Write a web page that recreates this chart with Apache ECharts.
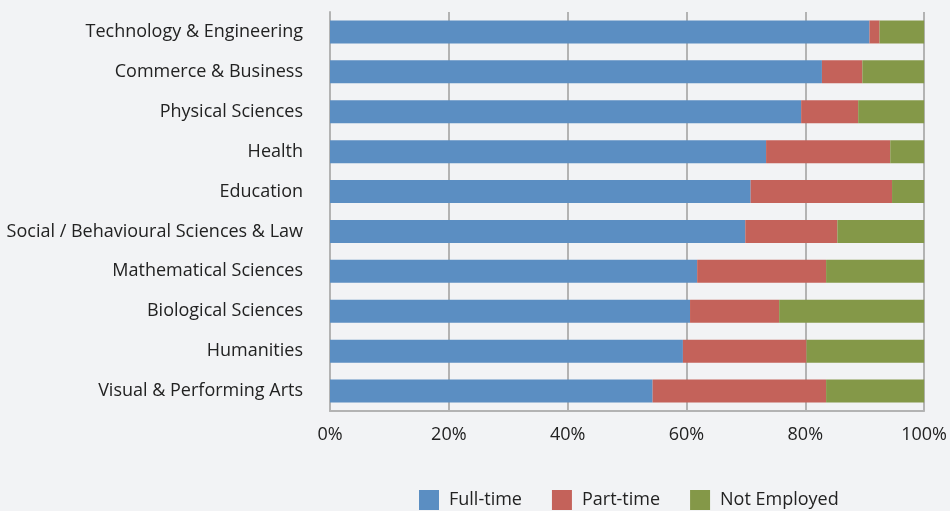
<!DOCTYPE html>
<html>
<head>
<meta charset="utf-8">
<script src="https://cdn.jsdelivr.net/npm/echarts@6/dist/echarts.min.js"></script>
<style>
  html, body { margin: 0; padding: 0; background: #f2f3f5; }
  #chart { width: 950px; height: 511px; }
</style>
</head>
<body>
<div id="chart"></div>
<script>
// categories, top to bottom
const categories = [
  'Technology & Engineering',
  'Commerce & Business',
  'Physical Sciences',
  'Health',
  'Education',
  'Social / Behavioural Sciences & Law',
  'Mathematical Sciences',
  'Biological Sciences',
  'Humanities',
  'Visual & Performing Arts'
]
// shares in percent
const fullTime = [90.8, 82.8, 79.3, 73.4, 70.8, 69.9, 61.8, 60.6, 59.4, 54.3]
const partTime = [1.7, 6.8, 9.6, 20.9, 23.8, 15.5, 21.7, 15.0, 20.8, 29.2]
const notEmployed = [7.5, 10.4, 11.1, 5.7, 5.4, 14.6, 16.5, 24.4, 19.8, 16.5]
const seriesNames = ['Full-time', 'Part-time', 'Not Employed']

const font = 'Open Sans'
const chart = echarts.init(document.getElementById('chart'))

const makeSeries = (name, data, color) => ({
  name: name,
  type: 'bar',
  stack: 'total',
  barWidth: 23,
  itemStyle: { color: color },
  data: data
})

chart.setOption({
  backgroundColor: '#f2f3f5',
  animation: false,
  textStyle: { fontFamily: font },
  grid: { left: 330, right: 25, top: 12, bottom: 100 },
  legend: {
    top: 490,
    left: 419,
    padding: 0,
    itemWidth: 20,
    itemHeight: 20,
    itemGap: 30,
    icon: 'rect',
    textStyle: { fontSize: 18, color: '#222', fontFamily: font, padding: [0, 0, 0, 5] },
    data: seriesNames
  },
  xAxis: {
    type: 'value',
    min: 0,
    max: 100,
    interval: 20,
    axisLine: { show: true, lineStyle: { color: '#b3b3b3', width: 2 } },
    axisTick: { show: false },
    splitLine: { show: true, lineStyle: { color: '#b3b3b3', width: 2 } },
    axisLabel: {
      formatter: '{value}%',
      fontSize: 18,
      color: '#222',
      margin: 15,
      fontFamily: font
    }
  },
  yAxis: {
    type: 'category',
    inverse: true,
    data: categories,
    axisLine: { show: true, lineStyle: { color: '#b3b3b3', width: 2 } },
    axisTick: { show: false },
    axisLabel: { fontSize: 18, color: '#222', margin: 27, fontFamily: font }
  },
  series: [
    makeSeries(seriesNames[0], fullTime, '#5b8ec2'),
    makeSeries(seriesNames[1], partTime, '#c4625a'),
    makeSeries(seriesNames[2], notEmployed, '#849848')
  ]
})
</script>
</body>
</html>
